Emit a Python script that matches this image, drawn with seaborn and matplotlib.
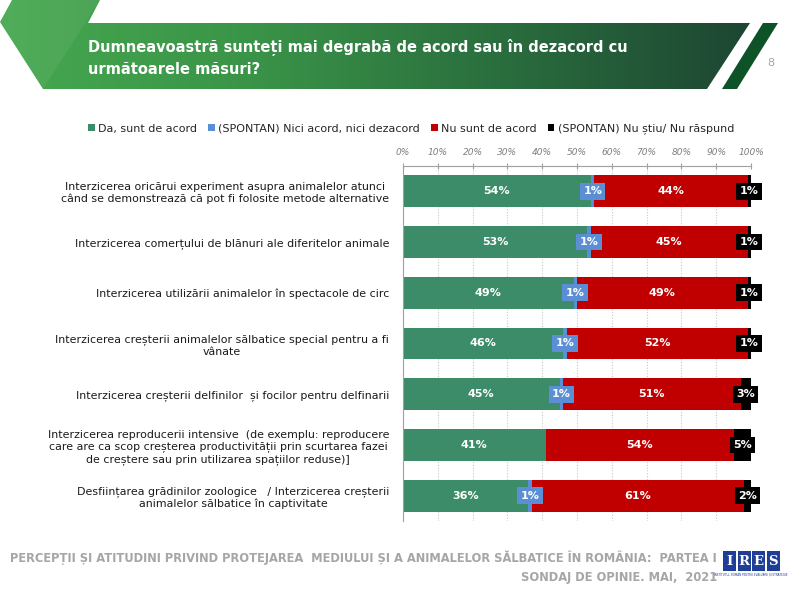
import numpy as np
import pandas as pd
import matplotlib
matplotlib.use("Agg")
import matplotlib.pyplot as plt
import seaborn as sns
from matplotlib.patches import Polygon, Rectangle
from matplotlib.colors import LinearSegmentedColormap

# data
categories = [
    "Interzicerea oricărui experiment asupra animalelor atunci\ncând se demonstrează că pot fi folosite metode alternative",
    "Interzicerea comerțului de blănuri ale diferitelor animale",
    "Interzicerea utilizării animalelor în spectacole de circ",
    "Interzicerea creșterii animalelor sălbatice special pentru a fi\nvânate",
    "Interzicerea creșterii delfinilor  și focilor pentru delfinarii",
    "Interzicerea reproducerii intensive  (de exemplu: reproducere\ncare are ca scop creșterea productivității prin scurtarea fazei\nde creștere sau prin utilizarea spațiilor reduse)]",
    "Desființarea grădinilor zoologice   / Interzicerea creșterii\nanimalelor sălbatice în captivitate",
]
da = [54, 53, 49, 46, 45, 41, 36]
nici = [1, 1, 1, 1, 1, 0, 1]
nu = [44, 45, 49, 52, 51, 54, 61]
ns = [1, 1, 1, 1, 3, 5, 2]
series_names = ["Da, sunt de acord", "(SPONTAN) Nici acord, nici dezacord",
                "Nu sunt de acord", "(SPONTAN) Nu știu/ Nu răspund"]
series_colors = ["#3C8C69", "#5B8FD5", "#C00000", "#000000"]
x_ticks = list(range(0, 101, 10))

title_lines = ["Dumneavoastră sunteți mai degrabă de acord sau în dezacord cu",
               "următoarele măsuri?"]
footer_lines = ["PERCEPȚII ȘI ATITUDINI PRIVIND PROTEJAREA  MEDIULUI ȘI A ANIMALELOR SĂLBATICE ÎN ROMÂNIA:  PARTEA I",
                "SONDAJ DE OPINIE. MAI,  2021"]

sns.set_theme(style="white")
plt.rcParams["font.family"] = ["DejaVu Sans"]

df = pd.DataFrame({"categorie": categories, "da": da, "nici": nici, "nu": nu, "ns": ns})
df["c1"] = df["da"]
df["c2"] = df["c1"] + df["nici"]
df["c3"] = df["c2"] + df["nu"]
df["c4"] = df["c3"] + df["ns"]

fig = plt.figure(figsize=(8, 6), dpi=100)
fig.patch.set_facecolor("white")

# background layer in pixel coordinates (header banner, footer)
bg = fig.add_axes([0, 0, 1, 1], zorder=0)
banner_pts = [(12, 0), (100, 0), (88, 23), (750, 23), (707, 89), (43, 89), (0, 22)]
banner = Polygon(banner_pts, closed=True, facecolor="none", edgecolor="none", transform=bg.transData)
bg.add_patch(banner)
cmap = LinearSegmentedColormap.from_list("banner", ["#46A84F", "#3A9448", "#2A6E3E", "#1D4632"])
grad = np.linspace(0, 1, 256).reshape(1, -1)
im = bg.imshow(grad, extent=(0, 750, 89, 0), aspect="auto", cmap=cmap, zorder=1)
im.set_clip_path(banner)
bg.add_patch(Polygon([(12, 0), (100, 0), (43, 89), (0, 22)], closed=True,
                     facecolor="white", alpha=0.06, edgecolor="none", zorder=2))
bg.add_patch(Polygon([(763, 23), (778, 23), (737, 89), (722, 89)], closed=True,
                     facecolor="#0E5228", edgecolor="none", zorder=2))
for k, line in enumerate(title_lines):
    bg.text(88, 48 + 22 * k, line, color="white", fontsize=10.5, fontweight="bold",
            va="center", ha="left", zorder=3)
bg.text(771, 63, "8", color="#A6A6A6", fontsize=8, ha="center", va="center")

for k, line in enumerate(footer_lines):
    bg.text(717, 558 + 20 * k, line, color="#A6A6A6", fontsize=8.3, fontweight="bold",
            ha="right", va="center")

# IRES logo
for k, letter in enumerate("IRES"):
    x0 = 723 + k * 14.5
    bg.add_patch(Rectangle((x0, 551), 13, 20, facecolor="#1F3E97", edgecolor="none"))
    bg.text(x0 + 6.5, 561.5, letter, color="white", fontsize=9.5, fontweight="bold",
            family="DejaVu Serif", ha="center", va="center")
bg.text(751, 575, "INSTITUTUL ROMÂN PENTRU EVALUARE ȘI STRATEGIE", color="#1F3E97",
        fontsize=2, ha="center", va="center")
bg.set_xlim(0, 800)
bg.set_ylim(600, 0)
bg.axis("off")

# main chart
ax = fig.add_axes([403 / 800, 1 - 521 / 600, 348 / 800, 355 / 600], zorder=2)
layers = [("c4", 3), ("c3", 2), ("c2", 1), ("c1", 0)]
for col, i in layers:
    sns.barplot(data=df, x=col, y="categorie", orient="h", color=series_colors[i],
                width=0.63, saturation=1, linewidth=0, errorbar=None, ax=ax, zorder=2)

ax.set_xlim(0, 100)
ax.set_ylim(len(categories) - 0.5, -0.5)
ax.xaxis.tick_top()
ax.set_xticks(x_ticks)
ax.set_xticklabels([f"{t}%" for t in x_ticks], fontstyle="italic", color="#7F7F7F", fontsize=6.5)
ax.tick_params(axis="x", direction="inout", length=5, width=0.8, color="#A0A0A0", pad=4)
ax.xaxis.grid(True, linestyle=(0, (1, 1.5)), color="#C8C8C8", linewidth=0.8)
ax.set_axisbelow(True)

ax.set_yticks(range(len(categories)))
ax.set_yticklabels(categories, fontsize=7.9, color="#1A1A1A")
for lab in ax.get_yticklabels():
    lab.set_multialignment("center")
ax.set_yticks(np.arange(-0.5, len(categories), 1), minor=True)
ax.tick_params(axis="y", which="major", length=0, pad=10)
ax.tick_params(axis="y", which="minor", length=4, width=0.8, color="#A0A0A0", direction="out")
ax.set_xlabel("")
ax.set_ylabel("")
for side in ["right", "bottom"]:
    ax.spines[side].set_visible(False)
for side in ["left", "top"]:
    ax.spines[side].set_color("#A0A0A0")
    ax.spines[side].set_linewidth(0.8)

# value labels
for row in range(len(categories)):
    vals = [da[row], nici[row], nu[row], ns[row]]
    start = 0
    for s, v in enumerate(vals):
        if v > 0:
            cx = start + v / 2
            if s in (0, 2):
                ax.text(cx, row, f"{v}%", color="white", fontsize=8, fontweight="bold",
                        ha="center", va="center", zorder=4)
            else:
                ax.text(cx, row, f"{v}%", color="white", fontsize=8, fontweight="bold",
                        ha="center", va="center", zorder=5,
                        bbox=dict(boxstyle="square,pad=0.3", facecolor=series_colors[s],
                                  edgecolor="none"))
        start += v

handles = [Rectangle((0, 0), 1, 1, facecolor=c, edgecolor="none") for c in series_colors]
fig.legend(handles, series_names, loc="center", bbox_to_anchor=(411 / 800, 1 - 129 / 600),
           ncol=4, frameon=False, fontsize=8, handlelength=0.6, handleheight=0.6,
           handletextpad=0.3, columnspacing=1.0)

fig.savefig("out.png", dpi=100)
